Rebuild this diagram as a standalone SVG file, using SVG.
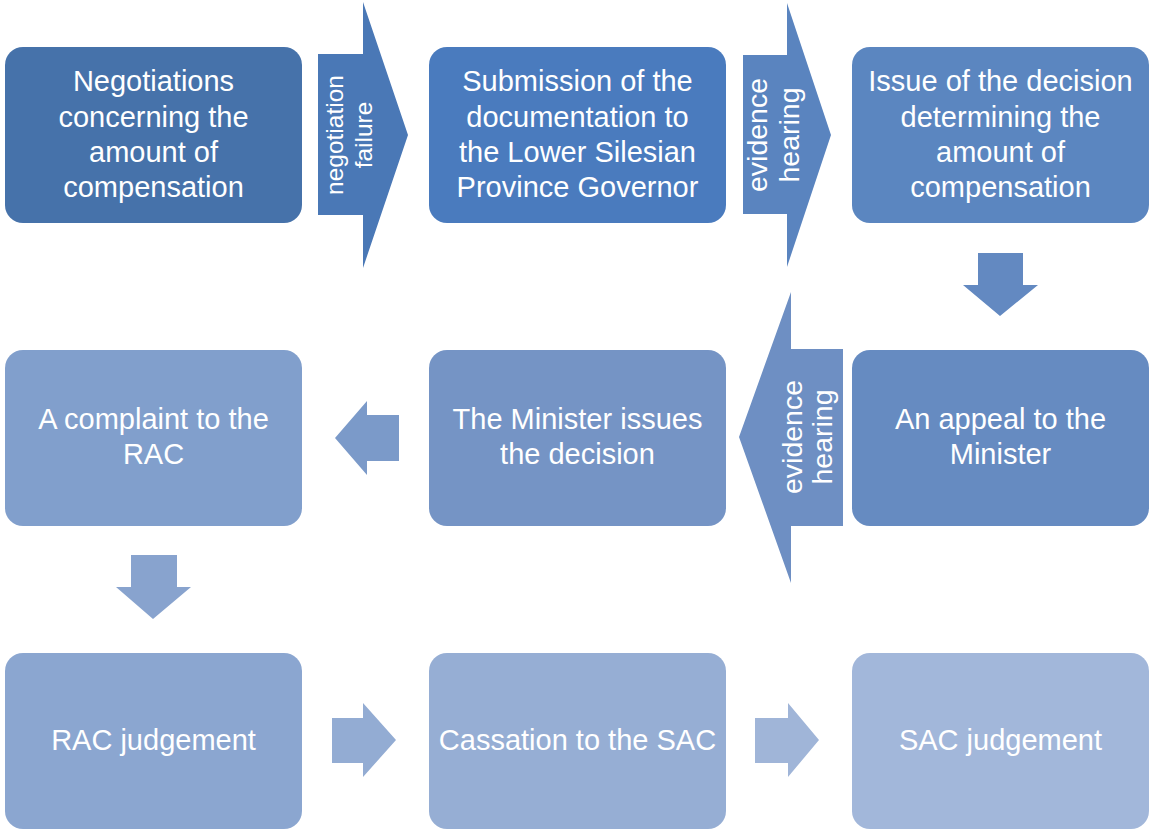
<svg xmlns="http://www.w3.org/2000/svg" width="1151" height="830" viewBox="0 0 1151 830">
<style>
text{font-family:"Liberation Sans",Arial,sans-serif;fill:#ffffff;text-anchor:middle}
.t{font-size:29px}
.a{font-size:28.5px}
.a1{font-size:24.5px}
</style>
<rect width="1151" height="830" fill="#ffffff"/>
<g id="connectors">
<polygon points="318,54 363,54 363,2 408,135 363,268 363,215 318,215" fill="#4a78b6"/>
<g class="a1"><text transform="translate(343,135) rotate(-90)">negotiation</text><text transform="translate(372,135) rotate(-90)">failure</text></g>
<polygon points="743,55 787,55 787,3 831,135 787,267 787,214 743,214" fill="#5a84bf"/>
<g class="a"><text transform="translate(767,135) rotate(-90)">evidence</text><text transform="translate(799,135) rotate(-90)">hearing</text></g>
<polygon points="978,253 1023,253 1023,285 1038,285 1000,316 963,285 978,285" fill="#6389c1"/>
<polygon points="843,349 843,526 791,526 791,583 739,437 791,292 791,349" fill="#6e8fc3"/>
<g class="a"><text transform="translate(802,437) rotate(-90)">evidence</text><text transform="translate(832,437) rotate(-90)">hearing</text></g>
<polygon points="399,415 399,461 367,461 367,475 335,438 367,401 367,415" fill="#7b9ac9"/>
<polygon points="131,555 177,555 177,587 191,587 153,619 116,587 131,587" fill="#88a3ce"/>
<polygon points="332,718 363,718 363,703 396,740 363,777 363,763 332,763" fill="#93acd3"/>
<polygon points="755,718 788,718 788,703 819,740 788,777 788,763 755,763" fill="#a0b5d8"/>
</g>
<g id="n1"><rect x="5" y="47" width="297" height="176" rx="18" fill="#4672aa"/>
<g class="t"><text x="153.5" y="91">Negotiations</text><text x="153.5" y="126.5">concerning the</text><text x="153.5" y="162">amount of</text><text x="153.5" y="197">compensation</text></g></g>
<g id="n2"><rect x="429" y="47" width="297" height="176" rx="18" fill="#4a7bbe"/>
<g class="t"><text x="577.5" y="91">Submission of the</text><text x="577.5" y="126.5">documentation to</text><text x="577.5" y="162">the Lower Silesian</text><text x="577.5" y="197">Province Governor</text></g></g>
<g id="n3"><rect x="852" y="47" width="297" height="176" rx="18" fill="#5b86c0"/>
<g class="t"><text x="1000.5" y="91">Issue of the decision</text><text x="1000.5" y="126.5">determining the</text><text x="1000.5" y="162">amount of</text><text x="1000.5" y="197">compensation</text></g></g>
<g id="n4"><rect x="852" y="350" width="297" height="176" rx="18" fill="#668bc1"/>
<g class="t"><text x="1000.5" y="429">An appeal to the</text><text x="1000.5" y="464">Minister</text></g></g>
<g id="n5"><rect x="429" y="350" width="297" height="176" rx="18" fill="#7594c5"/>
<g class="t"><text x="577.5" y="429">The Minister issues</text><text x="577.5" y="464">the decision</text></g></g>
<g id="n6"><rect x="5" y="350" width="297" height="176" rx="18" fill="#819fcc"/>
<g class="t"><text x="153.5" y="429">A complaint to the</text><text x="153.5" y="464">RAC</text></g></g>
<g id="n7"><rect x="5" y="653" width="297" height="176" rx="18" fill="#8ba6d0"/>
<text class="t" x="153.5" y="750">RAC judgement</text></g>
<g id="n8"><rect x="429" y="653" width="297" height="176" rx="18" fill="#96aed4"/>
<text class="t" x="577.5" y="750">Cassation to the SAC</text></g>
<g id="n9"><rect x="852" y="653" width="297" height="176" rx="18" fill="#a2b7da"/>
<text class="t" x="1000.5" y="750">SAC judgement</text></g>
</svg>
